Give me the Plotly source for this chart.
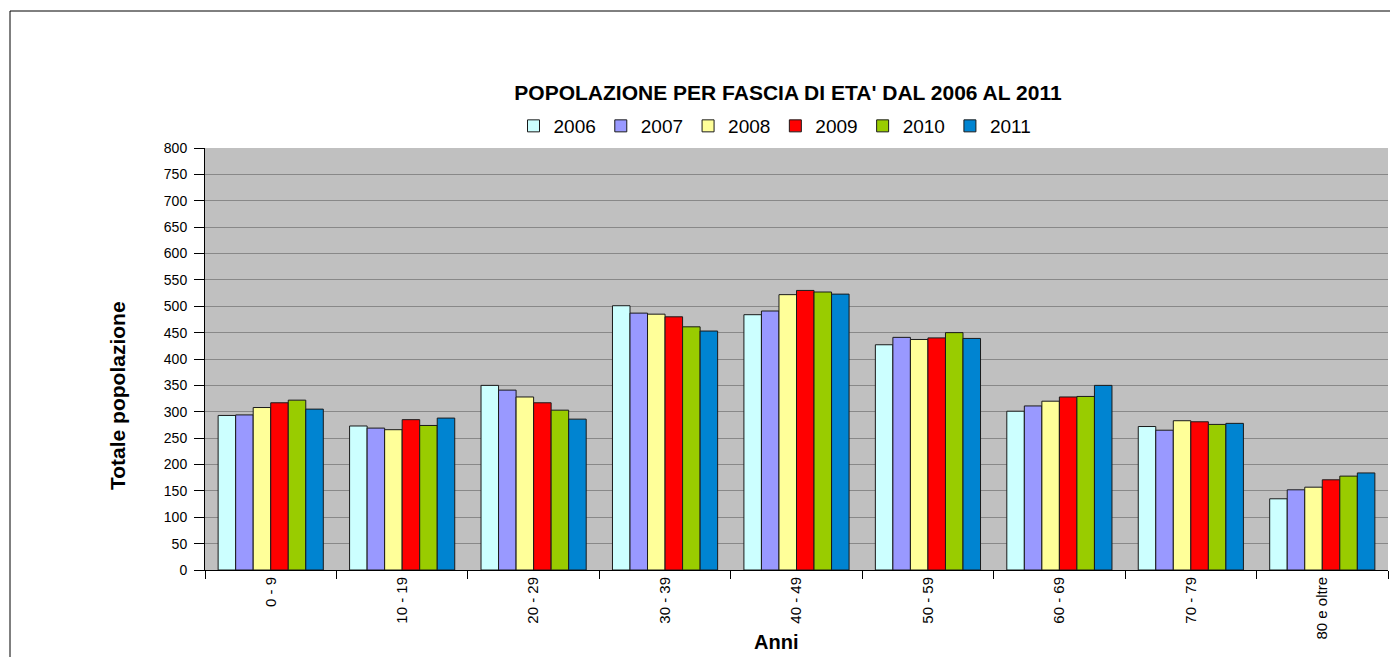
import plotly.graph_objects as go

categories = ["0 - 9", "10 - 19", "20 - 29", "30 - 39", "40 - 49", "50 - 59", "60 - 69", "70 - 79", "80 e oltre"]
years = ["2006", "2007", "2008", "2009", "2010", "2011"]
v2006 = [293, 273, 350, 501, 484, 427, 301, 272, 135]
v2007 = [294, 269, 341, 487, 491, 441, 311, 265, 152]
v2008 = [308, 266, 328, 485, 522, 437, 320, 283, 157]
v2009 = [317, 285, 317, 480, 530, 440, 328, 281, 171]
v2010 = [322, 274, 303, 461, 527, 450, 329, 276, 178]
v2011 = [305, 288, 286, 453, 523, 439, 350, 278, 184]
series = [v2006, v2007, v2008, v2009, v2010, v2011]
colors = ["#CCFFFF", "#9999FF", "#FFFF99", "#FF0000", "#99CC00", "#0084D1"]

FONT = "Liberation Sans, Arial, sans-serif"

fig = go.Figure()
for name, vals, col in zip(years, series, colors):
    fig.add_trace(go.Bar(
        x=categories, y=vals, name=name,
        marker=dict(color=col, line=dict(color="#1a1a1a", width=1)),
    ))

L, R, T, B = 205, 2, 148, 87
W, H = 1390, 657
pw = W - L - R
ph = H - T - B

def px_x(x):
    return (x - L) / pw

def px_y(y):
    return (H - B - y) / ph

fig.update_layout(
    width=W, height=H,
    margin=dict(l=L, r=R, t=T, b=B),
    paper_bgcolor="white",
    plot_bgcolor="#C0C0C0",
    barmode="group",
    bargap=0.2,
    bargroupgap=0,
    font=dict(family=FONT, color="black"),
    title=dict(
        text="<b>POPOLAZIONE PER FASCIA DI ETA' DAL 2006 AL 2011</b>",
        font=dict(size=21, family=FONT, color="black"),
        x=px_x(788), xref="paper", xanchor="center",
        y=1 - 93 / H, yref="container", yanchor="middle",
    ),
    legend=dict(
        orientation="h",
        x=px_x(775), xanchor="center",
        y=px_y(126), yanchor="middle",
        font=dict(size=19, family=FONT),
        bgcolor="rgba(0,0,0,0)",
        itemwidth=30,
        tracegroupgap=0,
    ),
    xaxis=dict(
        type="category",
        tickson="boundaries",
        ticks="outside", ticklen=8, tickcolor="black",
        tickangle=-90,
        tickfont=dict(size=15, family=FONT),
        showline=True, linecolor="black", linewidth=1,
        showgrid=False,
        mirror=False,
    ),
    yaxis=dict(
        range=[0, 800], dtick=50,
        ticks="outside", ticklen=10, tickcolor="black",
        ticklabelstandoff=4,
        tickfont=dict(size=14, family=FONT),
        showline=True, linecolor="black", linewidth=1,
        showgrid=True, gridcolor="#888888", gridwidth=1,
        zeroline=False,
    ),
    annotations=[
        dict(text="<b>Totale popolazione</b>", textangle=-90,
             x=px_x(117), y=px_y(396), xref="paper", yref="paper",
             showarrow=False, font=dict(size=21, family=FONT),
             xanchor="center", yanchor="middle"),
        dict(text="<b>Anni</b>",
             x=px_x(776), y=px_y(642), xref="paper", yref="paper",
             showarrow=False, font=dict(size=20, family=FONT),
             xanchor="center", yanchor="middle"),
    ],
    shapes=[
        dict(type="rect", xref="paper", yref="paper",
             x0=px_x(10), x1=px_x(1420), y0=px_y(680), y1=px_y(11),
             line=dict(color="black", width=1), fillcolor="rgba(0,0,0,0)",
             layer="below"),
    ],
)

fig.write_html(
    "out.html",
    config={"displayModeBar": False},
    post_script="document.body.style.margin='0';document.body.style.overflow='hidden';",
)
